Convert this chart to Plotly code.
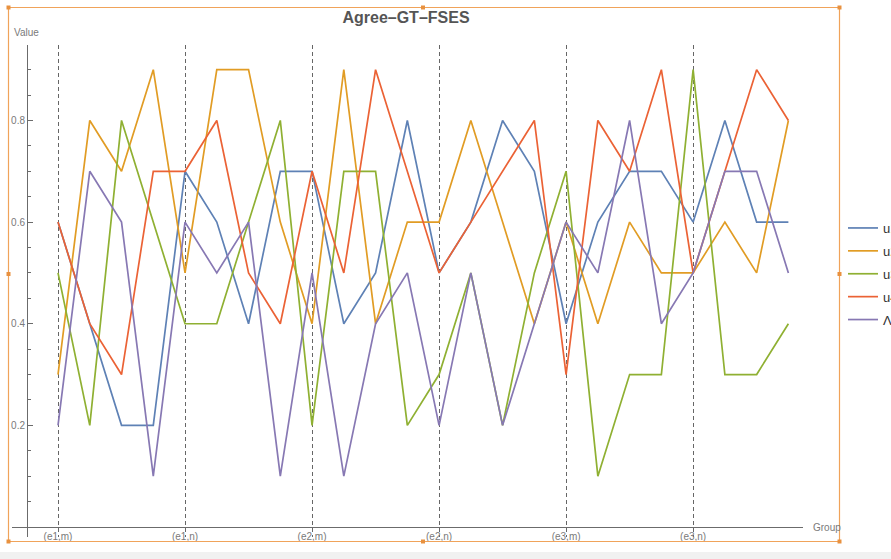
import plotly.graph_objects as go

# ---- data -------------------------------------------------------------
x_index = [0, 1, 2, 3, 4, 5, 6, 7, 8, 9, 10, 11,
           12, 13, 14, 15, 16, 17, 18, 19, 20, 21, 22, 23]
group_tick_pos = [0, 4, 8, 12, 16, 20]
group_tick_labels = ["(e1,m)", "(e1,n)", "(e2,m)", "(e2,n)", "(e3,m)", "(e3,n)"]

series_names = ["u1", "u2", "u3", "u4", "Λ"]
u1 = [0.6, 0.4, 0.2, 0.2, 0.7, 0.6, 0.4, 0.7, 0.7, 0.4, 0.5, 0.8,
      0.5, 0.6, 0.8, 0.7, 0.4, 0.6, 0.7, 0.7, 0.6, 0.8, 0.6, 0.6]
u2 = [0.3, 0.8, 0.7, 0.9, 0.5, 0.9, 0.9, 0.6, 0.4, 0.9, 0.4, 0.6,
      0.6, 0.8, 0.6, 0.4, 0.6, 0.4, 0.6, 0.5, 0.5, 0.6, 0.5, 0.8]
u3 = [0.5, 0.2, 0.8, 0.6, 0.4, 0.4, 0.6, 0.8, 0.2, 0.7, 0.7, 0.2,
      0.3, 0.5, 0.2, 0.5, 0.7, 0.1, 0.3, 0.3, 0.9, 0.3, 0.3, 0.4]
u4 = [0.6, 0.4, 0.3, 0.7, 0.7, 0.8, 0.5, 0.4, 0.7, 0.5, 0.9, 0.7,
      0.5, 0.6, 0.7, 0.8, 0.3, 0.8, 0.7, 0.9, 0.5, 0.7, 0.9, 0.8]
lam = [0.2, 0.7, 0.6, 0.1, 0.6, 0.5, 0.6, 0.1, 0.5, 0.1, 0.4, 0.5,
       0.2, 0.5, 0.2, 0.4, 0.6, 0.5, 0.8, 0.4, 0.5, 0.7, 0.7, 0.5]
all_series = [u1, u2, u3, u4, lam]
colors = ["#5E81B5", "#E19C24", "#8FB032", "#EB6235", "#8778B3"]

y_major = [0.2, 0.4, 0.6, 0.8]
y_minor = [0.05, 0.1, 0.15, 0.25, 0.3, 0.35, 0.45, 0.5, 0.55, 0.65,
           0.7, 0.75, 0.85, 0.9]

# ---- geometry ---------------------------------------------------------
W, H = 891, 559
ML, MR, MT, MB = 12, 88, 45, 22
PW, PH = W - ML - MR, H - MT - MB

def px_x(p):
    return (p - ML) / PW

def px_y(p):
    return (H - MB - p) / PH

fig = go.Figure()
for name, vals, col in zip(series_names, all_series, colors):
    fig.add_trace(go.Scatter(
        x=x_index, y=vals, mode="lines", name=name,
        line=dict(color=col, width=1.7), legendgroup=name,
    ))

axis_col = "#6b6b6b"
label_font = dict(family="Liberation Sans, Arial", size=10, color="#7a7a7a")

fig.update_layout(
    width=W, height=H,
    margin=dict(l=ML, r=MR, t=MT, b=MB, autoexpand=False),
    paper_bgcolor="white", plot_bgcolor="white",
    title=dict(text="<b>Agree–GT–FSES</b>", x=406 / W, xanchor="center",
               y=1 - 17 / H, yanchor="middle", xref="container", yref="container",
               font=dict(family="Liberation Sans, Arial", size=16, color="#555555")),
    showlegend=True,
    legend=dict(x=px_x(843), y=px_y(213), xanchor="left", yanchor="top",
                font=dict(family="Liberation Sans, Arial", size=13, color="#333333"),
                itemwidth=30, tracegroupgap=3, bgcolor="rgba(0,0,0,0)"),
    xaxis=dict(
        range=[-1.449, 23.46], anchor="free", position=px_y(527),
        showline=True, linecolor=axis_col, linewidth=1,
        tickmode="array", tickvals=group_tick_pos, ticktext=group_tick_labels,
        ticks="", tickfont=label_font,
        showgrid=True, gridcolor="#666666", gridwidth=1, griddash="4px,3px",
        zeroline=False,
    ),
    yaxis=dict(
        range=[-0.0197, 0.9485], anchor="free", position=px_x(27),
        showline=True, linecolor=axis_col, linewidth=1,
        tickmode="array", tickvals=y_major, ticktext=["0.2", "0.4", "0.6", "0.8"],
        ticks="inside", ticklen=5, tickcolor=axis_col, tickfont=label_font,
        minor=dict(tickmode="array", tickvals=y_minor, ticks="inside",
                   ticklen=3, tickcolor=axis_col, showgrid=False),
        showgrid=False, zeroline=False,
    ),
)

# axis labels
fig.add_annotation(text="Value", xref="paper", yref="paper",
                   x=px_x(12), y=px_y(33), xanchor="left", yanchor="middle",
                   showarrow=False, font=label_font)
fig.add_annotation(text="Group", xref="paper", yref="paper",
                   x=px_x(811), y=px_y(527), xanchor="left", yanchor="middle",
                   showarrow=False, font=label_font)

# orange selection frame with handles (decoration)
frame_col = "#F0A35A"
fx0, fx1, fy0, fy1 = 8.5, 839.5, 7.5, 541.5
fig.add_shape(type="rect", xref="paper", yref="paper",
              x0=px_x(fx0), x1=px_x(fx1), y0=px_y(fy1), y1=px_y(fy0),
              line=dict(color=frame_col, width=1.2), fillcolor="rgba(0,0,0,0)",
              layer="above")
for hx in (fx0, 423, fx1):
    for hy in (fy0, 274, fy1):
        if hx == 423 and hy == 274:
            continue
        fig.add_shape(type="rect", xref="paper", yref="paper",
                      x0=px_x(hx - 2), x1=px_x(hx + 2),
                      y0=px_y(hy + 2), y1=px_y(hy - 2),
                      line=dict(width=0), fillcolor="#E8913F", layer="above")

# light band at bottom of window
fig.add_shape(type="rect", xref="paper", yref="paper",
              x0=px_x(0), x1=px_x(W), y0=px_y(H), y1=px_y(552),
              line=dict(width=0), fillcolor="#f1f1f1", layer="below")

fig.write_html("out.html",
               config={"displayModeBar": False},
               post_script="document.body.style.margin='0';document.body.style.overflow='hidden';")
